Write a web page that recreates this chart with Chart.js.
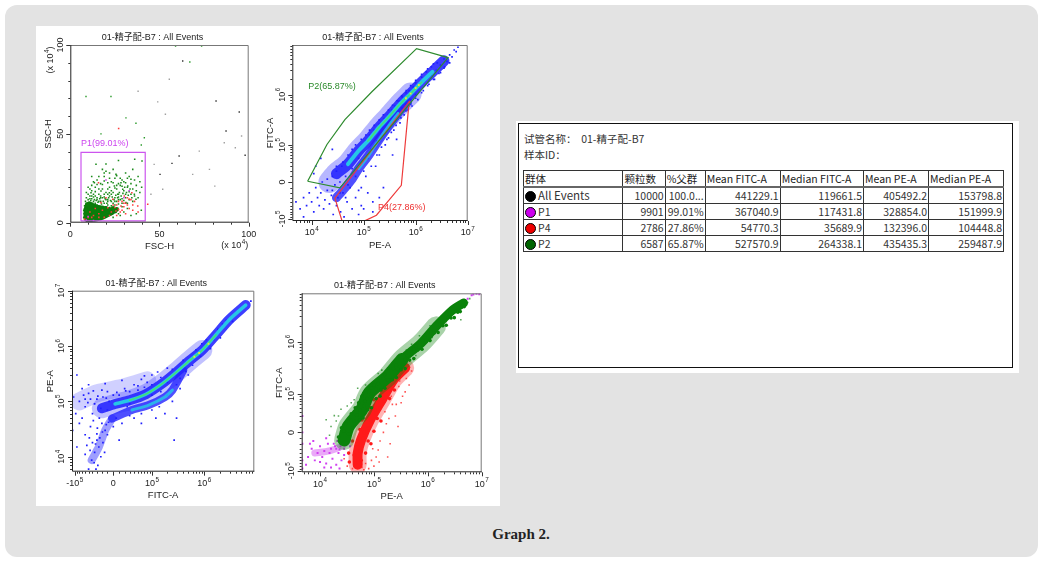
<!DOCTYPE html>
<html><head><meta charset="utf-8">
<script src="https://cdn.jsdelivr.net/npm/chart.js@4.4.1/dist/chart.umd.min.js"></script>
<style>
html,body{margin:0;padding:0;background:#fff;width:1043px;height:561px;overflow:hidden;}
#frame{position:absolute;left:5px;top:5px;width:1033px;height:552px;background:#e3e3e3;border-radius:12px;}
#leftPanel{position:absolute;left:36px;top:26px;width:464px;height:480px;background:#fff;}
#rightPanel{position:absolute;left:516px;top:121px;width:503px;height:252px;background:#fff;}
#box{position:absolute;left:518px;top:123px;width:495px;height:245px;border:1px solid #111;box-sizing:border-box;}
canvas{position:absolute;}
.info{position:absolute;left:524px;font:10.5px "Noto Sans CJK SC","Noto Sans",sans-serif;color:#333;white-space:pre;}
#tbl{position:absolute;left:523px;top:170px;border-collapse:collapse;table-layout:fixed;font:10.5px "Noto Sans CJK SC","Noto Sans",sans-serif;color:#333;}
#tbl td{border:1px solid #333;height:15px;padding:0 1px;line-height:15px;white-space:nowrap;overflow:hidden;box-sizing:border-box;}
#tbl tr.hd td{border-bottom:2px solid #666;text-align:left;color:#222;}
#tbl td.num{text-align:right;}
.dot{display:inline-block;width:11px;height:11px;border-radius:50%;border:1px solid #000;vertical-align:-2px;margin-right:2px;box-sizing:border-box;}
#caption{position:absolute;left:421px;width:200px;top:526px;text-align:center;font:bold 15px "Liberation Serif","DejaVu Serif",serif;color:#222;}
</style></head>
<body>
<div id="frame"></div>
<div id="leftPanel"></div>
<div id="rightPanel"></div>
<div id="box"></div>
<canvas id="c1" width="232" height="242" style="left:36px;top:26px"></canvas>
<canvas id="c2" width="234" height="242" style="left:266px;top:26px"></canvas>
<canvas id="c3" width="232" height="238" style="left:36px;top:268px"></canvas>
<canvas id="c4" width="232" height="238" style="left:268px;top:268px"></canvas>
<div class="info" id="info1" style="top:131px"></div>
<div class="info" id="info2" style="top:147px"></div>
<table id="tbl"></table>
<div id="caption">Graph 2.</div>
<script>
// ---------------- DATA ----------------
const plotTitle = '01-精子配-B7 : All Events';

// Plot 1: FSC-H vs SSC-H (units x10^4)
const p1XTickVals = [0, 50, 100];
const p1XTickLabels = ['0', '50', '100'];
const p1YTickVals = [0, 50, 100];
const p1YTickLabels = ['0', '50', '100'];
const p1Minor = [10, 20, 30, 40, 60, 70, 80, 90];
const p1Gate = [[6,1],[42,1],[42,39.6],[6,39.6],[6,1]];
const p1GateLabel = 'P1(99.01%)';
const p1CoreOutline = [[8.8,0.8],[8.3,9],[9.5,11],[11,11.5],[13,10.5],[15.7,9.6],[18,9.2],[20.4,8.4],[22.5,7.8],[24.5,7.2],[24.5,5.5],[22,4],[18.5,2.2],[15,1.2],[12,0.8],[8.8,0.8]];
const p1Core = [[9,2],[10,2],[11,2],[12,2],[13,2.5],[14,3],[15,3.5],[16,4],[17,4.5],[18,5],[19,5.5],[20,6],[21,6.5],
  [9,4],[10,4],[11,4],[12,4.5],[13,5],[14,5.5],[15,6],[16,6.5],[17,7],[9,6],[10,6],[11,6.5],[12,7],[13,7.5],[14,8],
  [9,8],[10,8.5],[11,9],[12,9.5],[9.5,10],[22,7.5],[24,8],[8.5,3],[8.5,5],[8.5,7],[15,8],[18,7],[20,8],[25,6.5],[23,5.5],[26,7.5]];
const p1Green = [[8.5,12],[9,14],[10,13],[11,15],[12,13.5],[13,12],[14,11],[15,10],[16,9.5],[17,8.5],[18,9],[19,8],[20,9],
  [21,10],[22,8.5],[23,9.5],[24,11],[25,10],[26,12],[27,10.5],[28,13],[29,11],[30,12.5],[31,14],[32,11],[33,13],[34,16],
  [35,12],[36,15],[37,18],[38,14],[39,17],[40,20],[12,18],[14,20],[16,16],[18,14],[20,13],[22,15],[24,17],[26,19],[28,21],
  [30,18],[32,20],[34,22],[36,24],[38,26],[15,24],[17,22],[19,26],[21,19],[23,23],[25,25],[27,16],[29,24],[31,28],[33,26],
  [35,30],[22,28],[18,30],[14.4,32.9],[19,28],[25.6,27.2],[21,22.5],[28.4,22.5],[32.2,20.6],[35.9,16],[36.8,13.2],[31.2,11.3],
  [26.6,16],[21.9,16.9],[17.2,17.8],[13.5,22.5],[11.6,16.9],[24.7,20.6],[29.4,18.8],[34,24.4],[19,23.5],[39.8,7],[37,5],
  [34,4],[30,6],[27,5],[10,20],[9,17],[20,33],[27,35],[36.1,35.7],[40.2,34.7],[24,3],[28,4],[32,8],[13,16],[15,14],[17,12],
  [19,11],[23,12],[25,14],[27,13],[11,11],[13,10],[16,12],[21,12],[26,8],[29,9],
  [10.5,11.5],[11.5,12.5],[12.5,11],[13.5,13],[14.5,12.5],[15.5,11.5],[16.5,13.5],[17.5,10.5],[18.5,12],[19.5,13.5],[20.5,11],
  [21.5,14],[22.5,12.5],[23.5,14.5],[24.5,13],[25.5,15.5],[26.5,14],[27.5,17],[28.5,15],[29.5,16.5],[30.5,20],[31.5,17],
  [32.5,15.5],[33.5,19],[34.5,14],[12,21],[14,17.5],[16,19],[18,21.5],[20,17],[22,20],[24,22.5],[26,21],[28,25],[30,23],
  [32,25],[16,26],[20,29],[24,30],[12,26],[10,16],[11,19],[13,23],[15,21.5],[17,15],[19,16],[21,16],[23,18],[25,19.5],
  [27,22],[29,20.5],[31,22.5],[26,26.5],[22,25],[18,19],[14,15],[12,15],[10,10],[9,11],[8,9.5],[11,13.5],[13,14.5],[15,13],
  [17,14],[19,14.5],[21,13],[23,16],[25,12],[27,14.5],[29,13.5],[31,16],[33,17.5],[35,19],[37,21],[39,23]];
const p1Red = [[23.8,13.2],[28.4,9.4],[33,13.2],[25.6,6.6],[37.8,9.4],[21,8.4],[30.3,15],[34.5,16.9],[17.2,11.3],[15.8,22.5],
  [43.4,10.4],[26,4],[29,7],[31,5],[35,7],[22,4],[19,3],[24,10],[27,12],[32,10],[36,12],[38,6],[20,14],[14,8],[16,5],[18,7],
  [12,3],[27.1,53],[10,3],[13,4],[16,3],[11,6],[8,2],[23,6],[26,10],[30,9],[28,6],[33,8],[35,10],[29,12],[31,11],[34,13],
  [25,8.5],[27,7.5],[30,11],[32,14]];
const p1Magenta = [[9,1.5],[13,1.2],[30,14],[33,18],[20,24],[10,3.5]];
const p1OutGreen = [[8.8,71],[59,99.4],[73.6,99.4],[67,90.4],[36.8,56],[31.2,59],[17.2,50],[41.5,47.8],[39.8,43.7],[22.8,71]];
const p1OutBlack = [[63,91],[81.7,68.5],[87.3,51.6],[57,33.4],[61,37.5],[50.3,27.2],[94.7,62.3],[98,38]];
const p1OutGray = [[55.5,80.7],[38,74],[49,68],[53.3,61],[96,48.8],[86.3,45],[92.5,42.2],[72.3,40.3],[68.6,27.2],[47,32.8],
  [51.8,18.8],[45.2,16],[78,30],[81,20.6]];

// Plot 2: PE-A (log) vs FITC-A (biexponential)
const p2XTickVals = [1e4, 1e5, 1e6, 1e7];
const p2XTickLabels = ['10^4', '10^5', '10^6', '10^7'];
const p2YTickVals = [-1e5, 0, 1e5, 1e6];
const p2YTickLabels = ['-10^5', '0', '10^5', '10^6'];
const p2GateP2 = [[8380,1230],[1.97e4,1.02e5],[4.36e4,3.24e5],[1.44e5,1.14e6],[1.04e6,7.98e6],[4.19e6,5.33e6],[3.49e4,-1.06e4],[8380,1230]];
const p2GateP4 = [[7.7e5,7.6e5],[2.8e4,-3.1e4],[3.9e4,-1.15e5],[1.0e5,-1.12e5],[1.76e5,-8.3e4],[5.3e5,-6e3],[7.3e5,5.5e5],[7.7e5,7.6e5]];
const p2LabelP2 = 'P2(65.87%)';
const p2LabelP4 = 'P4(27.86%)';
const p2BandUpper = [[2.2e4,0],[3e4,1.5e4],[5e4,3.5e4],[8e4,7.5e4],[1.2e5,1.2e5],[2e5,2.3e5],[3e5,3.6e5],[5.2e5,6.8e5],
  [8e5,1.05e6],[1.3e6,1.75e6],[2.1e6,2.8e6],[3.5e6,4.6e6],[5e6,6.5e6]];
const p2BandLower = [[3e4,-3e4],[4e4,-1.5e4],[6e4,5e3],[8e4,2.5e4],[1.2e5,5.5e4],[1.8e5,1.1e5],[3e5,2.4e5],[4.6e5,4.3e5],[7e5,7.2e5]];
const p2Peak = [[1e6,1.35e6],[1.15e6,1.55e6],[6.5e5,8.5e5],[8e5,1.05e6]];
const p2Blue = [[5e3,-4e4],[6e3,-6e4],[7e3,-3e4],[8e3,-5e4],[9e3,-2e4],[1e4,-4e4],[1.1e4,-7e4],[1.2e4,-1e4],[1.3e4,-3e4],
  [1.4e4,-5e4],[1.5e4,-2e4],[1.6e4,0],[1.7e4,-6e4],[1.8e4,-3.5e4],[2e4,-1.5e4],[2e4,5e3],[2.2e4,-4.5e4],[2.4e4,-2.5e4],
  [2.5e4,1e4],[2.6e4,-8e4],[2.8e4,-5e3],[3e4,-5e4],[3e4,2e4],[3.2e4,-3e4],[3.5e4,0],[3.6e4,-7e4],[3.8e4,3e4],[4e4,-2e4],
  [4.2e4,-9e4],[4.5e4,1e4],[4.8e4,-4e4],[5e4,4e4],[5.5e4,-1e4],[6e4,-6e4],[6e4,2.5e4],[6.5e4,6e4],[7e4,-3e4],[7e4,1e4],
  [8e4,5e4],[8e4,-1.5e4],[9e4,-5e4],[9e4,8e4],[1e5,2e4],[1.1e5,1.2e5],[1.2e5,-2e4],[1.2e5,5e4],[1.3e5,1.6e5],[1.4e5,8e4],
  [1.5e5,-4e4],[1.6e5,2e5],[1.7e5,3e4],[1.8e5,1.2e5],[2e5,2.6e5],[2e5,6e4],[2.2e5,1.6e5],[2.4e5,-1e4],[2.5e5,3.4e5],
  [2.6e5,1e5],[2.8e5,2.2e5],[3e5,4e5],[3e5,1.4e5],[3.3e5,2.8e5],[3.5e5,5e5],[3.6e5,6e4],[3.8e5,2e5],[4e5,6e5],[4e5,3.5e5],
  [4.3e5,1.3e5],[4.5e5,4.5e5],[4.8e5,7.5e5],[5e5,2.8e5],[5.5e5,5.5e5],[5.5e5,9e5],[6e5,4e5],[6.5e5,1.1e6],[6.5e5,6.5e5],
  [7e5,5e5],[7.5e5,1.2e6],[8e5,8e5],[8.5e5,6e5],[9e5,1.4e6],[1e6,1e6],[1e6,1.7e6],[1.1e6,8e5],[1.2e6,1.5e6],[1.3e6,2.2e6],
  [1.4e6,1.2e6],[1.5e6,1.9e6],[1.6e6,2.8e6],[1.8e6,1.6e6],[2e6,2.4e6],[2e6,3.5e6],[2.3e6,2e6],[2.5e6,3e6],[2.6e6,4.2e6],
  [3e6,2.7e6],[3e6,3.8e6],[3.5e6,5e6],[3.6e6,3.5e6],[4e6,4.5e6],[4.5e6,6e6],[5e6,5.5e6],[5.5e6,7.5e6],[6e6,7e6],[6.5e6,8.5e6],
  [1.5e5,-7e4],[2e5,-3e4],[1e5,-6e4],[8e4,-8e4],[1.2e4,3e4],[1.5e4,5e4],[2.5e4,8e4],[7e3,-9e4],[1.1e4,1.5e4],
  [2.5e4,-1.5e4],[3.5e4,-2e4],[4.5e4,-3e4],[5e4,-5e3],[3e4,3e4],[4e4,4e4],[5e4,6e4],[6e4,8e4],[7e4,1e5],[9e4,1.3e5],
  [1.1e5,1.6e5],[1.3e5,2e5],[1.6e5,2.5e5],[2e5,3.2e5],[2.4e5,4e5],[3e5,5e5],[3.6e5,6.2e5],[4.4e5,7.6e5],[5.4e5,9.5e5],
  [6.6e5,1.2e6],[8e5,1.5e6],[1e6,1.9e6],[1.3e6,2.5e6],[1.7e6,3.2e6],[2.2e6,4e6],[9e4,-1e4],[1.1e5,1e4],[1.4e5,3e4],
  [1.8e5,6e4],[2.2e5,9e4],[2.8e5,1.3e5],[3.4e5,1.8e5],[4.2e5,2.5e5],[5.2e5,3.5e5],[6.5e5,4.8e5],[8e5,6.5e5],[1e6,8.5e5],
  [1.3e6,1.1e6],[1.7e6,1.5e6],[2.2e6,2e6],[2.8e6,2.6e6],[3.5e6,3.3e6],[4.5e6,4.2e6]];

// Plot 3: FITC-A (biexponential) vs PE-A (log)
const p3XTickVals = [-1e5, 0, 1e5, 1e6];
const p3XTickLabels = ['-10^5', '0', '10^5', '10^6'];
const p3YTickVals = [1e4, 1e5, 1e6, 1e7];
const p3YTickLabels = ['10^4', '10^5', '10^6', '10^7'];
const p3Band = [[6e6,5.5e6],[2.95e6,3e6],[1.66e6,1.6e6],[9.2e5,8.5e5],[5.2e5,5.4e5],[3e5,3.4e5],[1.6e5,2.1e5],[7.5e4,1.35e5],
  [3e4,1.05e5],[3e3,9e4],[-2e4,7.5e4]];
const p3BandLower = [[4e5,3.6e5],[2.5e5,1.6e5],[1.8e5,1.2e5],[8.6e4,8.6e4],[3.5e4,7e4],[-2e3,4.9e4]];
const p3Tail = [[-2e3,4.9e4],[-1.4e4,3e4],[-2.6e4,1.5e4],[-4.2e4,8.7e3]];
const p3Diffuse = [[-8e4,1e5],[-3e4,1.4e5],[2e4,1.8e5],[8e4,2.4e5]];
const p3Peak = [[6.5e5,6.4e5],[1.2e6,1.1e6],[8e5,7.5e5]];
const p3Blue = [[-5e4,1.4e5],[-1.4e4,2.1e5],[1.5e4,2.4e5],[-3e4,1.1e5],[-6e4,8e4],[-8e4,1e5],[-4e4,6e4],[-2e4,1.6e5],[0,1.3e5],
  [2e4,1.7e5],[4e4,2e5],[6e4,2.5e5],[8e4,2.2e5],[1e5,3e5],[-1e4,7e4],[-5e4,2e5],[-9e4,3e5],[-7e4,5e4],
  [-1.4e4,3e4],[-2.6e4,1.5e4],[-4.2e4,8.7e3],[-3e4,2e4],[-2e4,4e4],[-3.5e4,1.2e4],[-5e4,6e3],[-1e4,2.5e4],[-4e4,1.8e4],
  [-2.8e4,7e3],[-6e4,2.5e4],[-9e4,1.5e4],[-1.1e5,3e4],[-8e4,4e4],[0,3.5e4],[1e4,2e4],[5e3,5e4],[-4.5e4,3.5e4],
  [2e5,1.3e5],[3e5,2e5],[2.5e5,3.8e5],[3.5e5,2.6e5],[4.5e5,3.5e5],[4e5,5.5e5],[6e5,4.5e5],[7e5,8.5e5],[8.5e5,6.5e5],
  [1.1e6,1.3e6],[1.3e6,9e5],[1.8e6,2e6],[2e6,1.4e6],[2.6e6,2.9e6],[3.4e6,2.8e6],[4.5e6,4.5e6],[6e6,5.5e6],[7.5e6,6.5e6],
  [1.5e5,2.7e5],[1e5,2e5],[7e4,1.8e5],[2.5e5,1e5],[1.8e5,6e4],[2.7e5,2e4],[3e5,5e4],[1.2e5,5e4],[6e4,4e4],[4e4,5e4],
  [3e4,9e4],[1e5,1.3e5],[1.5e5,1.5e5],[2e5,2.2e5],[-3.5e4,9e4],[-2.5e4,5e4],[-1.8e4,1.2e5],[-6.5e4,1.3e5],[-3e4,2.6e4],
  [-1.8e4,1.8e4],[-3.8e4,4.5e4],[-5.5e4,1.6e4],[2.5e4,8e4],[5e4,1.6e5],[-7e3,1e5],[-2.2e4,7.5e4],
  [-7e4,1.7e5],[-4.5e4,1.1e5],[-1e4,1.5e5],[1e4,1.3e5],[3e4,1.5e5],[5e4,1.9e5],[7e4,2.9e5],[1.3e5,3.4e5],[2e5,4e5],
  [-9.5e4,6e4],[-1.05e5,1.2e5],[-6e4,1.1e4],[-3.2e4,6e3],[-2.2e4,1e4],[-1.5e4,1.2e4],[-4.8e4,2.2e4],[1.5e4,4e4],
  [3e4,5.5e4],[6e4,6e4],[1e5,7e4],[1.4e5,8e4],[3.5e5,1.7e5],[5e5,3e5],[6e5,6e5],[9e5,1.1e6],[1.5e6,1.3e6],[2.2e6,2.5e6],
  [-2.4e4,2.2e4],[-1.2e4,3.8e4],[-3.3e4,1.7e4],[-4.6e4,1.3e4],[-3.6e4,7.8e3],[-1.9e4,2.8e4],[-8e3,4.2e4],[-2.9e4,3.3e4],
  [-5.2e4,9.5e4],[-2.8e4,1.25e5],[-1.2e4,1.15e5],[6e3,1.45e5],[2.2e4,1.55e5],[-3.8e4,1.55e5],[-6e4,1.1e5]];

// Plot 4: PE-A (log) vs FITC-A (biexponential), gated colours
const p4XTickVals = [1e4, 1e5, 1e6, 1e7];
const p4XTickLabels = ['10^4', '10^5', '10^6', '10^7'];
const p4YTickVals = [-1e5, 0, 1e5, 1e6];
const p4YTickLabels = ['-10^5', '0', '10^5', '10^6'];
const p4GreenBand = [[2.8e4,-1.3e4],[3.35e4,1e4],[5.9e4,4.5e4],[8.2e4,1.04e5],[1.8e5,2.2e5],[3.3e5,4.6e5],[7.5e5,9.4e5],
  [1.42e6,1.95e6],[2.9e6,4e6],[4.6e6,5.4e6]];
const p4RedBand = [[5e4,-7.5e4],[5e4,-4e4],[5.77e4,-1.3e4],[8.5e4,2.25e4],[1.4e5,7.6e4],[2.3e5,1.9e5],[3.8e5,3.2e5]];
const p4MagentaBand = [[8e3,-4e4],[1.5e4,-3.5e4],[2.5e4,-2.5e4],[3.3e4,-1.5e4]];
const p4Green = [[2.2e4,-8e3],[2.8e4,2e3],[3.4e4,-3e3],[4e4,8e3],[3e4,1.5e4],[2.5e4,8e3],
  [3.5e4,2.5e4],[4.3e4,2e4],[5.4e4,2.2e4],[6.3e4,2.6e4],[3.8e4,3.5e4],[4.8e4,3.2e4],
  [4.5e4,5e4],[5.5e4,4.5e4],[6.5e4,5.5e4],[7.7e4,4.5e4],[9e4,5e4],[5.2e4,6.5e4],[6.8e4,7e4],
  [6e4,9e4],[7.5e4,8e4],[9e4,9e4],[1.1e5,8e4],[1.3e5,9e4],[8e4,1.1e5],
  [9e4,1.3e5],[1.1e5,1.25e5],[1.35e5,1.2e5],[1.6e5,1.3e5],[1.2e5,1.6e5],[1.0e5,1.5e5],
  [1.5e5,2e5],[1.8e5,1.9e5],[2.2e5,1.9e5],[2.6e5,2.1e5],[1.6e5,2.4e5],
  [2.3e5,3.1e5],[2.8e5,3e5],[3.2e5,2.95e5],[3.8e5,3.1e5],[2.6e5,3.6e5],
  [3.8e5,4.6e5],[4.6e5,4.5e5],[5.5e5,4.8e5],[4.2e5,5.4e5],
  [5.5e5,7.2e5],[6.5e5,7e5],[7.8e5,7.2e5],[6e5,8.2e5],
  [8e5,1.05e6],[9.3e5,1e6],[1.1e6,1.05e6],[8.7e5,1.2e6],
  [1.15e6,1.5e6],[1.32e6,1.46e6],[1.55e6,1.5e6],
  [1.7e6,2.1e6],[1.9e6,2e6],[2.2e6,2.05e6],
  [2.4e6,2.9e6],[2.7e6,2.8e6],[3.1e6,2.85e6],
  [3.3e6,3.7e6],[3.6e6,3.6e6],[4e6,3.7e6],[4.4e6,4.8e6],[4.75e6,4.6e6]];
const p4GreenSparse = [[1.3e4,2.25e4],[1.84e4,3.1e4],[2.45e4,4.6e4],[4.3e4,7.6e4],[6.2e4,1.04e5],[9.5e4,1.64e5],[1.8e5,3.2e5],
  [1.77e6,3e6],[2.7e6,4e6],[4.1e6,2.6e6],[1.6e4,1e4],[2e4,2e4],[3.2e4,5.5e4],[5e4,1.3e5],[1.2e5,2.5e5],[3e5,5e5],
  [5e5,9e5],[2.5e6,3.6e6],[5.5e6,5.5e6],[6e6,6.5e6],[1.5e4,-5e3],[2.2e4,3e4],[3.8e4,6.5e4],[7e4,1.5e5],[1.4e5,2.9e5],
  [2.2e5,4e5],[4e5,7e5],[7e5,1.3e6],[1.1e6,2e6],[1.5e5,1.6e5],[2.8e5,2.6e5],[6e5,5.5e5],[1.2e6,1.2e6],[2.2e6,2.4e6]];
const p4Red = [[3.5e4,-6.5e4],[4.5e4,-7e4],[5.8e4,-6e4],[3.4e4,-4e4],[4.3e4,-4.5e4],[5.5e4,-3.5e4],[7e4,-4e4],[4e4,-1.5e4],
  [5e4,-2e4],[6.3e4,-1e4],[7.8e4,-1.5e4],[8.8e4,-2e4],[5.5e4,5e3],[6.6e4,0],[8e4,8e3],[1e5,2e3],[6e4,2.2e4],[7.5e4,2.5e4],
  [9e4,2e4],[1.15e5,2.5e4],[1.35e5,2e4],[7e4,4.5e4],[8.5e4,5e4],[1.05e5,4.5e4],[1.3e5,5e4],[1.0e5,7.6e4],[1.25e5,8e4],
  [1.55e5,7e4],[1.95e5,8e4],[1.3e5,1.2e5],[1.6e5,1.1e5],[2e5,1.3e5],[2.4e5,1.2e5],[1.8e5,1.9e5],[2.3e5,1.8e5],[2.9e5,2e5],
  [2.6e5,2.6e5],[3.3e5,2.7e5],[3.6e5,3.5e5],[4.1e5,3.6e5]];
const p4RedSparse = [[1.5e5,0],[1.2e5,-3.3e4],[3.2e5,6.5e4],[2.5e5,3e4],[1.8e5,-5e4],[8e4,-9e4],[4.5e5,1.5e5],[2.8e5,1e4],
  [5e5,2.8e5],[2e5,-2e4],[3.8e5,1.1e5],[1e5,-8e4],[6e4,-8.5e4],[2.2e5,6e4],[1.7e5,1.5e4],[1.1e5,-5e4],[9e4,-6e4],
  [1.3e5,-1.5e4],[2.1e5,9e4],[2.9e5,1.4e5],[4e5,2e5],[3.4e5,9e4],[1.6e5,4e4],[7e4,-7e4],[3.2e4,-8e4],[2.8e4,-5.5e4],
  [6.5e4,-9.5e4],[4e4,-9e4],[9.5e4,-3e4],[1.25e5,-6.5e4],[1.9e5,2.5e4],[2.6e5,6e4],[3e5,1.8e5],[4.6e5,3.3e5]];
const p4Magenta = [[6e3,-5e4],[7e3,-3e4],[8e3,-6e4],[9e3,-4e4],[1e4,-2.5e4],[1.1e4,-5e4],[1.2e4,-3.5e4],[1.3e4,-7e4],[1.4e4,-2e4],
  [1.5e4,-4e4],[1.6e4,-3e4],[1.7e4,-5.5e4],[1.8e4,-2e4],[2e4,-3e4],[2.1e4,-1.5e4],[2.2e4,-4e4],[2.4e4,-2.5e4],[2.5e4,-6e4],
  [2.6e4,-1.5e4],[2.8e4,-3e4],[3e4,-1e4],[3.2e4,-2e4],[3.4e4,-5e3],[2e4,-7.5e4],[2.3e4,-9e4],[1.6e4,-8.5e4],[7.5e3,-1.5e4],
  [1.3e4,-1e4],[4.7e3,-2e4],[4.7e3,-6e4],[4.7e3,-9e4],[4.7e3,0],[4.7e3,3e4],[1.9e4,-2.5e4],[2.7e4,-2e4],[2.3e4,-3.2e4],
  [6.5e3,-2e4],[1e4,-6.5e4],[1.2e4,-8.5e4],[2.8e4,-4.5e4],[3.6e4,-2.5e4],[5.5e3,-7.5e4],
  [5.5e6,6.5e6],[6.5e6,7.5e6],[8e6,8e6],[9e6,7.9e6],[5e6,6e6],[7e6,7.8e6]];

// Statistics table
const statHeaders = ['群体', '颗粒数', '%父群', 'Mean FITC-A', 'Median FITC-A', 'Mean PE-A', 'Median PE-A'];
const popNames = ['All Events', 'P1', 'P4', 'P2'];
const popColors = ['#000000', '#cc00ee', '#ee0000', '#006400'];
const popCounts = [10000, 9901, 2786, 6587];
const popParentPct = ['100.0...', '99.01%', '27.86%', '65.87%'];
const popMeanFITC = [441229.1, 367040.9, 54770.3, 527570.9];
const popMedianFITC = [119661.5, 117431.8, 35689.9, 264338.1];
const popMeanPE = [405492.2, 328854.0, 132396.0, 435435.3];
const popMedianPE = [153798.8, 151999.9, 104448.8, 259487.9];
const tubeName = '试管名称：  01-精子配-B7';
const sampleId = '样本ID：';

// ---------------- BIEXPONENTIAL SCALE ----------------
class BiexScale extends Chart.Scale {
  determineDataLimits() { this.min = this.options.min; this.max = this.options.max; }
  buildTicks() { return [{value: this.min}, {value: this.max}]; }
  getLabelForValue(v) { return String(v); }
  _t(v) { return Math.asinh(v / (2 * this.options.cofactor)) / Math.LN10; }
  getPixelForValue(v) {
    const a = this._t(this.min), b = this._t(this.max);
    return this.getPixelForDecimal((this._t(v) - a) / (b - a));
  }
  getValueForPixel(p) {
    const a = this._t(this.min), b = this._t(this.max);
    const t = a + this.getDecimalForPixel(p) * (b - a);
    return 2 * this.options.cofactor * Math.sinh(t * Math.LN10);
  }
}
BiexScale.id = 'biex';
BiexScale.defaults = {};
Chart.register(BiexScale);

// ---------------- helpers ----------------
const FONT = '"Liberation Sans", Arial, "Noto Sans CJK SC", sans-serif';
const minorMult = [2,3,4,5,6,7,8,9];
function logMinors(lo, hi) {
  const out = [];
  for (let d = Math.floor(Math.log10(Math.abs(lo))); d <= Math.ceil(Math.log10(hi)); d++) {
    minorMult.forEach(m => { const v = m * Math.pow(10, d); if (v > lo && v < hi) out.push(v); });
  }
  return out;
}
function biexMinors(lo, hi) {
  const out = [];
  for (let k = 1; k <= 9; k++) { out.push(k * 1e4); out.push(-k * 1e4); }
  logMinors(1e5, hi).forEach(v => out.push(v));
  return out.filter(v => v > lo && v < hi);
}
function drawLabel(ctx, s, x, y, rotate, size, color, align) {
  size = size || 9;
  ctx.save();
  ctx.translate(x, y);
  if (rotate) ctx.rotate(-Math.PI / 2);
  ctx.fillStyle = color || '#222';
  ctx.textBaseline = 'middle';
  ctx.textAlign = 'left';
  const m = /^(.*?)\^(\d+)(.*)$/.exec(s);
  const base = m ? m[1] : s, exp = m ? m[2] : '', suf = m ? m[3] : '';
  const es = size * 0.7;
  ctx.font = size + 'px ' + FONT; const wb = ctx.measureText(base).width; const ws = ctx.measureText(suf).width;
  ctx.font = es + 'px ' + FONT; const we = exp ? ctx.measureText(exp).width + 0.5 : 0;
  const total = wb + we + ws;
  const start = align === 'left' ? 0 : -total / 2;
  ctx.font = size + 'px ' + FONT; ctx.fillText(base, start, 0);
  if (exp) { ctx.font = es + 'px ' + FONT; ctx.fillText(exp, start + wb + 0.5, -size * 0.42); }
  if (suf) { ctx.font = size + 'px ' + FONT; ctx.fillText(suf, start + wb + we, 0); }
  ctx.restore();
}
function decoPlugin(spec) {
  return {
    id: 'deco_' + spec.id,
    afterDraw(chart) {
      const ctx = chart.ctx, a = chart.chartArea, xs = chart.scales.x, ys = chart.scales.y;
      ctx.save();
      ctx.lineWidth = 1;
      ctx.strokeStyle = '#777';
      ctx.beginPath();
      ctx.moveTo(a.left, a.top + 0.5); ctx.lineTo(a.right - 0.5, a.top + 0.5); ctx.lineTo(a.right - 0.5, a.bottom);
      ctx.stroke();
      ctx.strokeStyle = '#222';
      ctx.beginPath();
      ctx.moveTo(a.left + 0.5, a.top); ctx.lineTo(a.left + 0.5, a.bottom - 0.5); ctx.lineTo(a.right, a.bottom - 0.5);
      ctx.stroke();
      const tick = (px, py, dx, dy) => { ctx.beginPath(); ctx.moveTo(px, py); ctx.lineTo(px + dx, py + dy); ctx.stroke(); };
      ctx.strokeStyle = '#333';
      spec.xMajor.forEach(v => { const p = Math.round(xs.getPixelForValue(v)) + 0.5; tick(p, a.bottom, 0, 4); });
      spec.xMinor.forEach(v => { const p = Math.round(xs.getPixelForValue(v)) + 0.5; tick(p, a.bottom, 0, 2); });
      spec.yMajor.forEach(v => { const p = Math.round(ys.getPixelForValue(v)) + 0.5; tick(a.left, p, -4, 0); });
      spec.yMinor.forEach(v => { const p = Math.round(ys.getPixelForValue(v)) + 0.5; tick(a.left, p, -2, 0); });
      spec.xMajor.forEach((v, i) => drawLabel(ctx, spec.xLabels[i], xs.getPixelForValue(v), a.bottom + 12, false));
      spec.yMajor.forEach((v, i) => drawLabel(ctx, spec.yLabels[i], a.left - 10, ys.getPixelForValue(v), true));
      drawLabel(ctx, spec.xTitle, (a.left + a.right) / 2, a.bottom + 24, false, 9.5);
      drawLabel(ctx, spec.yTitle, a.left - 22, (a.top + a.bottom) / 2, true, 9.5);
      drawLabel(ctx, plotTitle, (a.left + a.right) / 2 - 7, a.top - 7.5, false, 9);
      (spec.texts || []).forEach(t => {
        const px = t.data ? xs.getPixelForValue(t.data[0]) : a.left + t.rel[0];
        const py = t.data ? ys.getPixelForValue(t.data[1]) : a.top + t.rel[1];
        drawLabel(ctx, t.text, px, py, !!t.rotate, t.size || 9, t.color, t.align);
      });
      ctx.restore();
    }
  };
}
function pts(data, color, r, style) {
  return {data: data, showLine: false, pointRadius: r, pointHoverRadius: r, pointBackgroundColor: color,
    pointBorderWidth: 0, pointStyle: style || 'rect'};
}
function gate(data, color) {
  return {data: data, showLine: true, fill: false, borderColor: color, borderWidth: 1.2, pointRadius: 0, tension: 0};
}
function band(data, color, width) {
  return {data: data, showLine: true, fill: false, borderColor: color, borderWidth: width, pointRadius: 0,
    borderCapStyle: 'round', borderJoinStyle: 'round', tension: 0.25};
}
function blob(data, color) {
  return {data: data, showLine: true, fill: 'shape', backgroundColor: color, borderColor: color, borderWidth: 1.5,
    pointRadius: 0, tension: 0.3};
}
function makePlot(canvasId, spec) {
  return new Chart(document.getElementById(canvasId), {
    type: 'scatter',
    data: {datasets: spec.datasets},
    options: {
      responsive: false, animation: false, events: [],
      layout: {padding: spec.pad},
      plugins: {legend: {display: false}, tooltip: {enabled: false}, title: {display: false}},
      scales: {x: Object.assign({display: false, bounds: 'data'}, spec.x), y: Object.assign({display: false, bounds: 'data'}, spec.y)}
    },
    plugins: [decoPlugin(spec)]
  });
}

// ---------------- PLOTS ----------------
makePlot('c1', {
  id: 1, pad: {left: 34.3, top: 19, right: 19.3, bottom: 45.3},
  x: {type: 'linear', min: 0, max: 100}, y: {type: 'linear', min: 0, max: 100},
  xMajor: p1XTickVals, xLabels: p1XTickLabels, xMinor: p1Minor,
  yMajor: p1YTickVals, yLabels: p1YTickLabels, yMinor: p1Minor,
  xTitle: 'FSC-H', yTitle: 'SSC-H',
  texts: [
    {text: p1GateLabel, data: [6, 44.7], color: '#cc44ee', align: 'left', size: 9},
    {text: '(x 10^4)', rel: [164.5, 201], size: 9},
    {text: '(x 10^4)', rel: [-19.5, 15], rotate: true, size: 9}
  ],
  datasets: [
    gate(p1Gate, '#cc55ee'),
    pts(p1Magenta, '#d040f0', 1.1),
    pts(p1Red, '#ff3a3a', 1.1),
    pts(p1Core, '#0b7d0b', 2.4, 'circle'),
    blob(p1CoreOutline, '#0b7d0b'),
    pts(p1Green, '#1a8a1a', 1.1),
    pts(p1OutGreen, '#2a9a2a', 1.0),
    pts(p1OutBlack, '#333333', 1.0),
    pts(p1OutGray, '#a0a0a0', 1.0)
  ]
});

makePlot('c2', {
  id: 2, pad: {left: 26.3, top: 19, right: 32.3, bottom: 47},
  x: {type: 'logarithmic', min: 4250, max: 1e7}, y: {type: 'biex', min: -1.1e5, max: 9.4e6, cofactor: 19500},
  xMajor: p2XTickVals, xLabels: p2XTickLabels, xMinor: logMinors(4250, 1e7),
  yMajor: p2YTickVals, yLabels: p2YTickLabels, yMinor: biexMinors(-1.1e5, 9.4e6),
  xTitle: 'PE-A', yTitle: 'FITC-A',
  texts: [
    {text: p2LabelP2, data: [8600, 1.43e6], color: '#2a8a2a', align: 'left', size: 9},
    {text: p2LabelP4, data: [1.88e5, -5.7e4], color: '#ee3030', align: 'left', size: 9}
  ],
  datasets: [
    gate(p2GateP2, '#2e8b2e'),
    gate(p2GateP4, '#ee3b3b'),
    pts(p2Peak, '#e8e040', 1.3),
    band(p2BandUpper.slice(4, 10), '#48e070', 1.5),
    band(p2BandUpper.slice(2, 11), '#26c6e6', 4),
    band(p2BandLower.slice(3, 8), 'rgba(38,198,230,0.85)', 3),
    pts(p2Blue, '#2020ff', 1.2),
    band(p2BandUpper.slice(1, 12), 'rgba(35,35,255,0.88)', 11),
    band(p2BandLower, 'rgba(35,35,255,0.8)', 9),
    band(p2BandUpper.slice(0, 9), 'rgba(50,50,255,0.35)', 22)
  ]
});

makePlot('c3', {
  id: 3, pad: {left: 36, top: 22.7, right: 13.7, bottom: 34.3},
  x: {type: 'biex', min: -1.13e5, max: 8.7e6, cofactor: 19500}, y: {type: 'logarithmic', min: 5370, max: 1e7},
  xMajor: p3XTickVals, xLabels: p3XTickLabels, xMinor: biexMinors(-1.13e5, 8.7e6),
  yMajor: p3YTickVals, yLabels: p3YTickLabels, yMinor: logMinors(5370, 1e7),
  xTitle: 'FITC-A', yTitle: 'PE-A',
  datasets: [
    pts(p3Peak, '#e8e040', 1.3),
    band(p3Band.slice(2, 9), '#48e070', 1.5),
    band(p3Band.slice(0, 10), '#26c6e6', 3.5),
    band(p3BandLower.slice(1, 5), 'rgba(38,198,230,0.85)', 3),
    pts(p3Blue, '#2020ff', 1.2),
    band(p3Band, 'rgba(35,35,255,0.88)', 10),
    band(p3BandLower, 'rgba(35,35,255,0.8)', 8),
    band(p3Band.slice(3), 'rgba(50,50,255,0.3)', 20),
    band(p3Tail, 'rgba(40,40,255,0.45)', 8),
    band(p3Diffuse, 'rgba(40,40,255,0.22)', 18)
  ]
});

makePlot('c4', {
  id: 4, pad: {left: 33.7, top: 25.3, right: 18.3, bottom: 33.7},
  x: {type: 'logarithmic', min: 4570, max: 1e7}, y: {type: 'biex', min: -1.07e5, max: 8.2e6, cofactor: 19500},
  xMajor: p4XTickVals, xLabels: p4XTickLabels, xMinor: logMinors(4570, 1e7),
  yMajor: p4YTickVals, yLabels: p4YTickLabels, yMinor: biexMinors(-1.07e5, 8.2e6),
  xTitle: 'PE-A', yTitle: 'FITC-A',
  datasets: [
    pts(p4Green, '#0a820a', 1.8, 'circle'),
    band(p4GreenBand.slice(0, 6), '#0a820a', 13),
    band(p4GreenBand, '#0a820a', 9),
    band(p4GreenBand.slice(0, 8), 'rgba(10,130,10,0.35)', 20),
    pts(p4GreenSparse, '#5aa85a', 1.1),
    pts(p4Magenta, '#d040f0', 1.4),
    band(p4MagentaBand, 'rgba(208,64,240,0.45)', 7),
    pts(p4Red, '#ff1a1a', 1.8, 'circle'),
    band(p4RedBand, '#ff1a1a', 10),
    band(p4RedBand, 'rgba(255,40,40,0.35)', 18),
    pts(p4RedSparse, '#ff5050', 1.1)
  ]
});

// ---------------- TABLE ----------------
document.getElementById('info1').textContent = tubeName;
document.getElementById('info2').textContent = sampleId;
const colW = [99.4, 42.3, 40, 75, 83.3, 65, 75];
const tbl = document.getElementById('tbl');
const cg = document.createElement('colgroup');
colW.forEach(w => { const c = document.createElement('col'); c.style.width = w + 'px'; cg.appendChild(c); });
tbl.appendChild(cg);
const hr = document.createElement('tr'); hr.className = 'hd';
statHeaders.forEach(h => { const td = document.createElement('td'); td.textContent = h; hr.appendChild(td); });
tbl.appendChild(hr);
popNames.forEach((n, i) => {
  const tr = document.createElement('tr');
  const td0 = document.createElement('td');
  const dot = document.createElement('span'); dot.className = 'dot'; dot.style.background = popColors[i];
  td0.appendChild(dot); td0.appendChild(document.createTextNode(n));
  if (i === 0) td0.style.fontSize = '11.5px';
  tr.appendChild(td0);
  [String(popCounts[i]), popParentPct[i], popMeanFITC[i].toFixed(1), popMedianFITC[i].toFixed(1), popMeanPE[i].toFixed(1), popMedianPE[i].toFixed(1)]
    .forEach(v => { const td = document.createElement('td'); td.className = 'num'; td.textContent = v; tr.appendChild(td); });
  tbl.appendChild(tr);
});
tbl.style.width = colW.reduce((s, w) => s + w, 0) + 'px';
</script>
</body></html>
